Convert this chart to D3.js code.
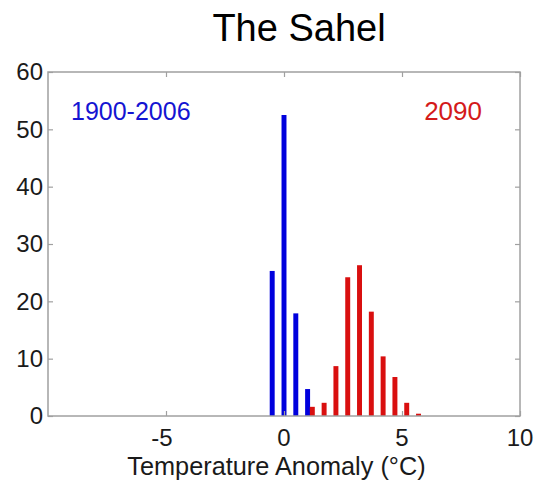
<!DOCTYPE html>
<html>
<head>
<meta charset="utf-8">
<script src="https://cdn.jsdelivr.net/npm/d3@7"></script>
<style>
  body { margin: 0; background: #fff; }
  text { font-family: "Liberation Sans", Arial, sans-serif; }
</style>
</head>
<body>
<svg id="chart" width="539" height="482"></svg>
<script>
// histogram bins
const pastCenters = [-0.5, 0, 0.5, 1.0];
const pastCounts = [25.3, 52.5, 17.9, 4.7];
const futureCenters = [1.2, 1.7, 2.2, 2.7, 3.2, 3.7, 4.2, 4.7, 5.2, 5.7];
const futureCounts = [1.6, 2.3, 8.7, 24.2, 26.3, 18.2, 10.4, 6.8, 2.3, 0.4];
const xTicks = [-5, 0, 5, 10];
const yTicks = [0, 10, 20, 30, 40, 50, 60];

const svg = d3.select('#chart');
const plotLeft = 48, plotRight = 520, plotTop = 72, plotBottom = 416;
const barW = 0.21;

const x = d3.scaleLinear().domain([-10, 10]).range([plotLeft, plotRight]);
const y = d3.scaleLinear().domain([0, 60]).range([plotBottom, plotTop]);

// bars
const drawBars = (centers, counts, colour) => {
  svg.append('g').selectAll('rect')
    .data(centers.map((c, i) => ({c: c, v: counts[i]})))
    .enter()
    .append('rect')
    .attr('x', d => x(d.c - barW / 2))
    .attr('width', d => x(d.c + barW / 2) - x(d.c - barW / 2))
    .attr('y', d => y(d.v))
    .attr('height', d => y(0) - y(d.v))
    .attr('fill', colour);
};
drawBars(pastCenters, pastCounts, '#0000dd');
drawBars(futureCenters, futureCounts, '#d90f0f');

// frame with inward ticks on all sides
const frameColour = '#a0a0a0';
svg.append('g')
  .attr('transform', `translate(0,${plotBottom})`)
  .call(d3.axisBottom(x).tickValues(xTicks).tickSize(-5).tickFormat(''))
  .call(g => g.select('.domain').remove());
svg.append('g')
  .attr('transform', `translate(0,${plotTop})`)
  .call(d3.axisTop(x).tickValues(xTicks).tickSize(-5).tickFormat(''))
  .call(g => g.select('.domain').remove());
svg.append('g')
  .attr('transform', `translate(${plotLeft},0)`)
  .call(d3.axisLeft(y).tickValues(yTicks).tickSize(-5).tickFormat(''))
  .call(g => g.select('.domain').remove());
svg.append('g')
  .attr('transform', `translate(${plotRight},0)`)
  .call(d3.axisRight(y).tickValues(yTicks).tickSize(-5).tickFormat(''))
  .call(g => g.select('.domain').remove());
svg.selectAll('.tick line').attr('stroke', frameColour).attr('stroke-width', 1.2);

svg.append('rect')
  .attr('x', plotLeft).attr('y', plotTop)
  .attr('width', plotRight - plotLeft).attr('height', plotBottom - plotTop)
  .attr('fill', 'none')
  .attr('stroke', frameColour)
  .attr('stroke-width', 1.5);

// tick labels
svg.append('g').selectAll('text')
  .data(xTicks)
  .enter()
  .append('text')
  .attr('x', d => x(d) - (d < 0 ? 4 : 0))
  .attr('y', 446)
  .attr('text-anchor', 'middle')
  .attr('font-size', 24)
  .attr('fill', '#1a1a1a')
  .text(d => d);

svg.append('g').selectAll('text')
  .data(yTicks)
  .enter()
  .append('text')
  .attr('x', 43)
  .attr('y', d => y(d))
  .attr('dy', '0.35em')
  .attr('text-anchor', 'end')
  .attr('font-size', 24)
  .attr('fill', '#1a1a1a')
  .text(d => d);

// titles and labels
svg.append('text')
  .attr('x', 299).attr('y', 41)
  .attr('text-anchor', 'middle')
  .attr('font-size', 38)
  .attr('fill', '#000')
  .text('The Sahel');

svg.append('text')
  .attr('x', 276.5).attr('y', 475)
  .attr('text-anchor', 'middle')
  .attr('font-size', 25.3)
  .attr('fill', '#1a1a1a')
  .text('Temperature Anomaly (°C)');

svg.append('text')
  .attr('x', 71).attr('y', 120)
  .attr('font-size', 25)
  .attr('fill', '#1414d2')
  .text('1900-2006');

svg.append('text')
  .attr('x', 482).attr('y', 120)
  .attr('text-anchor', 'end')
  .attr('font-size', 26)
  .attr('fill', '#d41a1a')
  .text('2090');
</script>
</body>
</html>
